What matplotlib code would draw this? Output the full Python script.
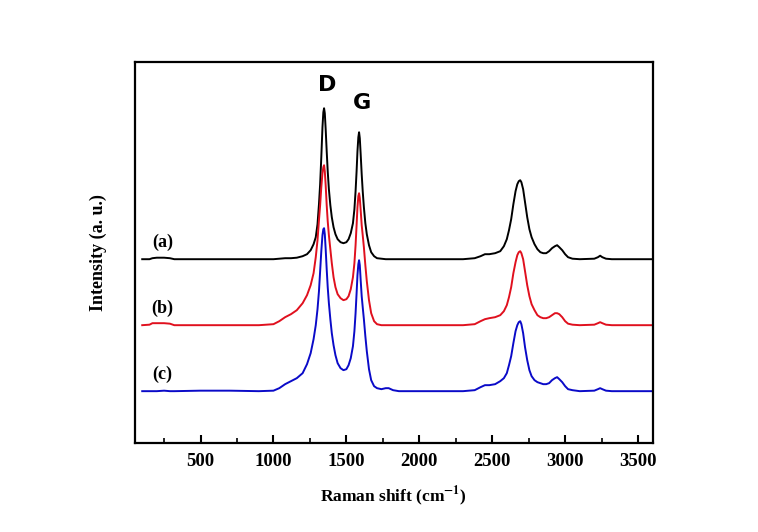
import matplotlib
matplotlib.use("Agg")
import matplotlib.pyplot as plt
from matplotlib.ticker import MultipleLocator

plt.rcParams["mathtext.fontset"] = "stix"

# Raman shift (cm-1) sample points
shift = [100, 150, 170, 200, 250, 290, 320, 500, 700, 900,
         1000, 1040, 1080, 1120, 1160, 1200, 1230, 1255, 1275, 1290,
         1302, 1312, 1320, 1328, 1336, 1342, 1347, 1352, 1358, 1365,
         1372, 1380, 1390, 1400, 1412, 1425, 1440, 1460, 1480, 1500,
         1515, 1530, 1545, 1555, 1563, 1570, 1576, 1582, 1587, 1592,
         1598, 1605, 1612, 1620, 1630, 1640, 1655, 1670, 1690, 1710,
         1740, 1770, 1790, 1820, 1860, 2000, 2200, 2300, 2380, 2420,
         2450, 2480, 2520, 2555, 2580, 2600, 2615, 2630, 2645, 2660,
         2672, 2682, 2692, 2700, 2712, 2725, 2740, 2755, 2770, 2790,
         2810, 2830, 2850, 2870, 2890, 2910, 2930, 2945, 2960, 2980,
         3000, 3020, 3050, 3100, 3200, 3225, 3240, 3255, 3280, 3320, 3450, 3600]

# intensity above each trace's own baseline (a. u.)
int_a = [0, 0, 1, 1.5, 1.5, 1, 0, 0, 0, 0,
         0, 0.5, 1, 1, 1.5, 3, 5, 9, 15, 22,
         35, 55, 75, 102, 132, 147, 151, 146, 130, 108,
         88, 70, 54, 42, 32, 25, 20, 17, 16, 17,
         20, 26, 36, 50, 68, 88, 108, 122, 127, 121,
         105, 85, 68, 52, 36, 25, 14, 7, 3, 1,
         0.5, 0, 0, 0, 0, 0, 0, 0, 1, 3,
         5, 5, 6, 8, 13, 20, 29, 40, 55, 68,
         75, 78, 79, 77, 70, 57, 42, 30, 22, 15,
         10, 7, 6, 6, 8, 11, 13, 14, 12, 9,
         5, 2, 0.5, 0, 0.5, 2, 3.5, 2, 0.5, 0, 0, 0]
int_b = [0, 0.5, 2, 2, 2, 1.5, 0, 0, 0, 0,
         1, 4, 8, 11, 15, 22, 30, 40, 52, 68,
         85, 105, 120, 138, 152, 158, 160, 154, 140, 120,
         104, 90, 76, 62, 48, 38, 31, 27, 25, 26,
         29, 36, 48, 62, 80, 100, 118, 129, 132, 127,
         115, 100, 90, 78, 60, 44, 25, 12, 4, 1,
         0, 0, 0, 0, 0, 0, 0, 0, 1, 4,
         6, 7, 8, 10, 14, 20, 28, 38, 52, 63,
         70, 73, 74, 72, 66, 54, 40, 29, 21, 15,
         10, 8, 7, 7, 8, 10, 12, 12, 11, 8,
         4, 1.5, 0.5, 0, 0.5, 2, 3, 2, 0.5, 0, 0, 0]
int_c = [0, 0, 0, 0, 0.5, 0, 0, 0.5, 0.5, 0,
         0.5, 3, 7, 10, 13, 18, 27, 38, 52, 66,
         82, 100, 120, 140, 156, 162, 163, 157, 142, 122,
         104, 88, 72, 58, 46, 36, 28, 23, 21, 22,
         26, 33, 45, 60, 78, 98, 116, 127, 131, 126,
         111, 95, 84, 72, 55, 40, 22, 11, 5, 3,
         2, 3, 3, 1, 0, 0, 0, 0, 1, 4,
         6, 6, 7, 10, 13, 18, 26, 35, 48, 60,
         66, 69, 70, 67, 58, 44, 31, 21, 15, 11,
         9, 8, 7, 7, 8, 11, 13, 14, 12, 9,
         5, 2, 1, 0, 0.5, 2, 3, 2, 0.5, 0, 0, 0]

series = [int_a, int_b, int_c]
offsets = [184, 118, 52]
labels = ["(a)", "(b)", "(c)"]
colors = ["black", "#e0101e", "#0a0ac8"]

fig = plt.figure(figsize=(7.58, 5.32), dpi=100)
ax = fig.add_axes([0.178, 0.167, 0.683, 0.716])

for vals, off, lab, col in zip(series, offsets, labels, colors):
    ax.plot(shift, [v + off for v in vals], color=col, lw=1.4)
    ax.text(240, off + 17, lab, ha="center", va="center", fontsize=13,
            family="Liberation Serif", fontweight="bold")

ax.text(1365, 348, "D", ha="center", va="bottom", fontsize=16,
        family="DejaVu Sans", fontweight="bold")
ax.text(1608, 330, "G", ha="center", va="bottom", fontsize=16,
        family="DejaVu Sans", fontweight="bold")

ax.set_xlim(50, 3600)
ax.set_ylim(0, 381)
ax.set_yticks([])
ax.xaxis.set_major_locator(MultipleLocator(500))
ax.xaxis.set_minor_locator(MultipleLocator(250))
ax.tick_params(axis="x", which="major", direction="in", length=6, width=1.5,
               pad=7)
ax.tick_params(axis="x", which="minor", direction="in", length=3.5, width=1.2)
for lab in ax.get_xticklabels():
    lab.set_family("Liberation Serif")
    lab.set_fontweight("bold")
    lab.set_fontsize(13.5)
for sp in ax.spines.values():
    sp.set_linewidth(1.6)

ax.set_xlabel("Raman shift (cm$^{\\mathbf{-1}}$)", family="Liberation Serif",
              fontweight="bold", fontsize=12.5, labelpad=10)
ax.set_ylabel("Intensity (a. u.)", family="Liberation Serif",
              fontweight="bold", fontsize=13, labelpad=20)

fig.savefig("out.png", dpi=100)
